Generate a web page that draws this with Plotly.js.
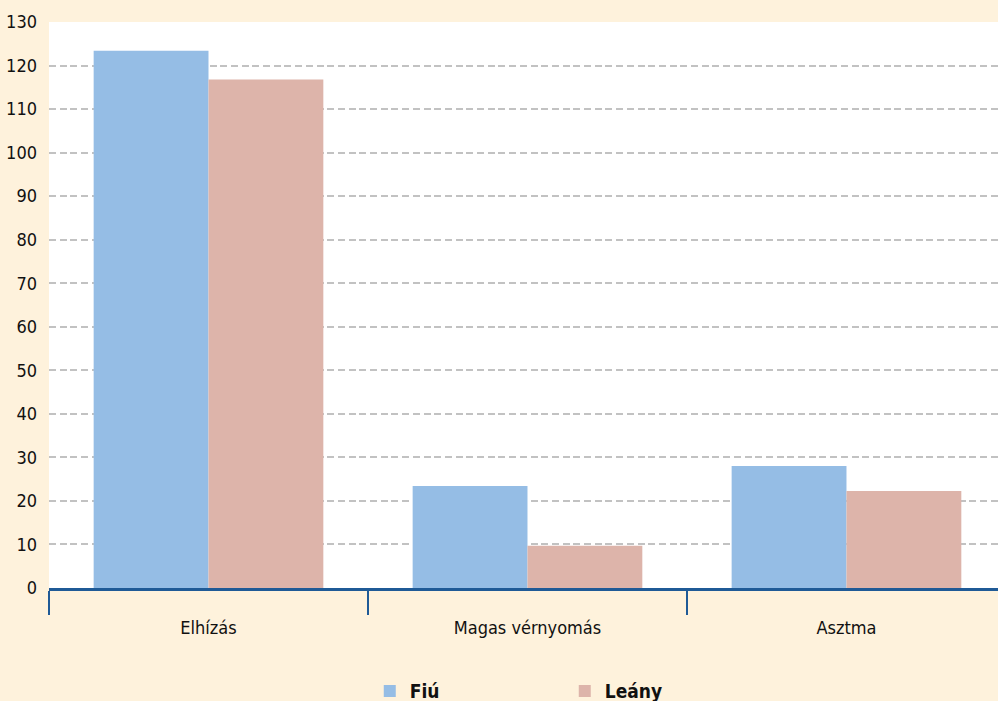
<!DOCTYPE html>
<html>
<head>
<meta charset="utf-8">
<script src="https://cdn.plot.ly/plotly-3.0.1.min.js"></script>
<style>
html,body{margin:0;padding:0;background:#FEF2DC;overflow:hidden}
.main-svg text{font-stretch:condensed !important;}
</style>
</head>
<body>
<div id="chart" style="width:998px;height:701px"></div>
<script>
var categories = ["Elhízás", "Magas vérnyomás", "Asztma"];
var fiuValues = [123.4, 23.4, 28.0];
var leanyValues = [116.8, 9.7, 22.3];
var seriesNames = ["Fiú", "Leány"];
var yTicks = [0,10,20,30,40,50,60,70,80,90,100,110,120,130];

var FONT = "'DejaVu Sans Condensed', 'DejaVu Sans', sans-serif";

var data = [
  {type: "bar", name: seriesNames[0], x: categories, y: fiuValues,
   marker: {color: "#95BDE5", line: {width: 0}}, hoverinfo: "none"},
  {type: "bar", name: seriesNames[1], x: categories, y: leanyValues,
   marker: {color: "#DDB4AA", line: {width: 0}}, hoverinfo: "none"}
];

var layout = {
  width: 998, height: 701,
  paper_bgcolor: "#FEF2DC",
  plot_bgcolor: "#FFFFFF",
  margin: {l: 49, r: 0, t: 22, b: 113, pad: 0, autoexpand: false},
  barmode: "group",
  bargap: 0.28,
  bargroupgap: 0,
  font: {family: FONT, size: 17, color: "#111111"},
  xaxis: {
    type: "category",
    range: [-0.5, 2.475],
    tickson: "boundaries",
    ticks: "outside",
    ticklen: 24,
    tickwidth: 2.5,
    tickcolor: "#1F5A96",
    showline: true,
    linecolor: "#1F5A96",
    linewidth: 3,
    showgrid: false,
    zeroline: false,
    ticklabelstandoff: 21,
    tickfont: {family: FONT, size: 18, color: "#111111"},
    fixedrange: true
  },
  yaxis: {
    range: [0, 130],
    tickvals: yTicks,
    ticktext: yTicks.map(String),
    showgrid: true,
    gridcolor: "#C2C2C2",
    gridwidth: 2,
    griddash: "7px,3.7px",
    zeroline: false,
    showline: false,
    ticks: "",
    ticklabelstandoff: 11,
    tickfont: {family: FONT, size: 18, color: "#111111"},
    fixedrange: true
  },
  showlegend: true,
  legend: {
    orientation: "h",
    x: 0.338, xanchor: "left",
    yref: "container",
    y: 0.014, yanchor: "middle",
    entrywidth: 150,
    entrywidthmode: "pixels",
    font: {family: FONT, size: 19, color: "#111111", weight: "bold"},
    bgcolor: "rgba(0,0,0,0)",
    itemsizing: "constant"
  }
};

Plotly.newPlot("chart", data, layout, {displayModeBar: false, staticPlot: true});
</script>
</body>
</html>
